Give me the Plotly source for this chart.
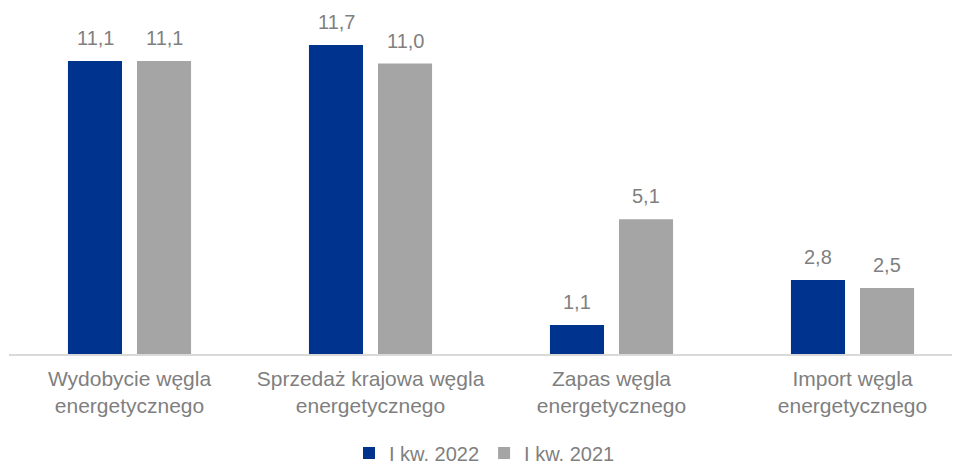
import plotly.graph_objects as go

categories = ["Wydobycie węgla<br>energetycznego",
              "Sprzedaż krajowa węgla<br>energetycznego",
              "Zapas węgla<br>energetycznego",
              "Import węgla<br>energetycznego"]
series_names = ["I kw. 2022", "I kw. 2021"]
values_2022 = [11.1, 11.7, 1.1, 2.8]
values_2021 = [11.1, 11.0, 5.1, 2.5]
colors = ["#00338D", "#A5A5A5"]

fmt = lambda v: f"{v:.1f}".replace(".", ",")
FONT = "Liberation Sans"
TXT = "#7F7F7F"

fig = go.Figure()
for name, vals, col in zip(series_names, [values_2022, values_2021], colors):
    fig.add_trace(go.Bar(
        x=categories, y=vals, name=name, marker_color=col,
        marker_line_width=0, cliponaxis=False,
    ))

# value labels above the bars
for vals, shift in zip([values_2022, values_2021], [-34.5, 34.5]):
    for c, v in zip(categories, vals):
        fig.add_annotation(x=c, y=v, text=fmt(v), showarrow=False,
                           xshift=shift, yshift=23, yanchor="middle",
                           font=dict(family=FONT, size=20, color=TXT))

fig.update_layout(
    width=952, height=457,
    margin=dict(l=1, r=0, t=2, b=111, autoexpand=False),
    paper_bgcolor="white", plot_bgcolor="white",
    barmode="group", bargap=0.427, bargroupgap=0.217,
    font=dict(family=FONT, size=20, color=TXT),
    xaxis=dict(range=[-0.5, 3.446], showline=True, linecolor="#D9D9D9", linewidth=1.5,
               ticks="", tickfont=dict(family=FONT, size=21, color=TXT),
               ticklabelstandoff=5, automargin=False),
    yaxis=dict(range=[0, 13.03], visible=False, showgrid=False, automargin=False),
    legend=dict(orientation="h", x=0.5, xanchor="center", y=-0.288,
                yanchor="middle", font=dict(family=FONT, size=20, color=TXT),
                itemwidth=30, traceorder="normal"),
    showlegend=True,
)

fig.write_html("out.html")
